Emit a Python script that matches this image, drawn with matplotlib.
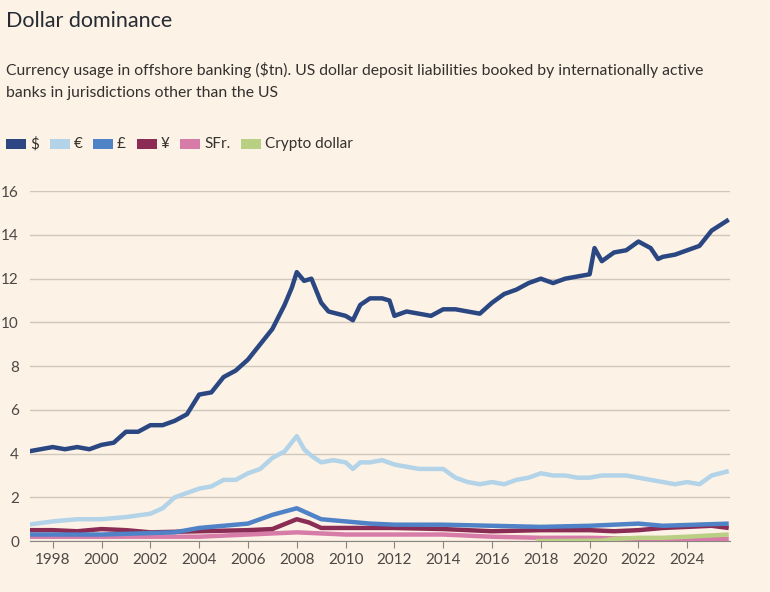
import numpy as np
import matplotlib
matplotlib.use("Agg")
from matplotlib import pyplot as plt
from matplotlib.patches import Rectangle

plt.rcParams['font.family'] = ['Lato', 'DejaVu Sans']

usd_x = [1997, 1997.5, 1998, 1998.5, 1999, 1999.5, 2000, 2000.5, 2001, 2001.5, 2002, 2002.5, 2003, 2003.5,
         2004, 2004.5, 2005, 2005.5, 2006, 2006.5, 2007, 2007.5, 2007.8, 2008, 2008.3, 2008.6, 2009, 2009.3,
         2010, 2010.3, 2010.6, 2011, 2011.5, 2011.8, 2012, 2012.5, 2013, 2013.5, 2014, 2014.5, 2015, 2015.5,
         2016, 2016.5, 2017, 2017.5, 2018, 2018.5, 2019, 2019.5, 2020, 2020.2, 2020.5, 2021, 2021.5, 2022,
         2022.5, 2022.8, 2023, 2023.5, 2024, 2024.5, 2025, 2025.7]
usd_y = [4.1, 4.2, 4.3, 4.2, 4.3, 4.2, 4.4, 4.5, 5.0, 5.0, 5.3, 5.3, 5.5, 5.8,
         6.7, 6.8, 7.5, 7.8, 8.3, 9.0, 9.7, 10.8, 11.6, 12.3, 11.9, 12.0, 10.9, 10.5,
         10.3, 10.1, 10.8, 11.1, 11.1, 11.0, 10.3, 10.5, 10.4, 10.3, 10.6, 10.6, 10.5, 10.4,
         10.9, 11.3, 11.5, 11.8, 12.0, 11.8, 12.0, 12.1, 12.2, 13.4, 12.8, 13.2, 13.3, 13.7,
         13.4, 12.9, 13.0, 13.1, 13.3, 13.5, 14.2, 14.7]

eur_x = [1997, 1998, 1999, 2000, 2001, 2002, 2002.5, 2003, 2003.5, 2004, 2004.5, 2005, 2005.5, 2006, 2006.5,
         2007, 2007.5, 2008, 2008.3, 2008.6, 2009, 2009.5, 2010, 2010.3, 2010.6, 2011, 2011.5, 2012, 2012.5,
         2013, 2013.5, 2014, 2014.5, 2015, 2015.5, 2016, 2016.5, 2017, 2017.5, 2018, 2018.5, 2019, 2019.5,
         2020, 2020.5, 2021, 2021.5, 2022, 2022.5, 2023, 2023.5, 2024, 2024.5, 2025, 2025.7]
eur_y = [0.75, 0.9, 1.0, 1.0, 1.1, 1.25, 1.5, 2.0, 2.2, 2.4, 2.5, 2.8, 2.8, 3.1, 3.3,
         3.8, 4.1, 4.8, 4.2, 3.9, 3.6, 3.7, 3.6, 3.3, 3.6, 3.6, 3.7, 3.5, 3.4,
         3.3, 3.3, 3.3, 2.9, 2.7, 2.6, 2.7, 2.6, 2.8, 2.9, 3.1, 3.0, 3.0, 2.9,
         2.9, 3.0, 3.0, 3.0, 2.9, 2.8, 2.7, 2.6, 2.7, 2.6, 3.0, 3.2]

gbp_x = [1997, 2000, 2003, 2004, 2005, 2006, 2007, 2008, 2009, 2010, 2011, 2012, 2014, 2016, 2018, 2020, 2022, 2023, 2025.7]
gbp_y = [0.3, 0.3, 0.4, 0.6, 0.7, 0.8, 1.2, 1.5, 1.0, 0.9, 0.8, 0.75, 0.75, 0.7, 0.65, 0.7, 0.8, 0.7, 0.8]

jpy_x = [1997, 1998, 1999, 2000, 2001, 2002, 2004, 2006, 2007, 2008, 2008.5, 2009, 2010, 2012, 2014, 2016,
         2018, 2020, 2021, 2022, 2023, 2024, 2025, 2025.7]
jpy_y = [0.5, 0.5, 0.45, 0.55, 0.5, 0.4, 0.45, 0.5, 0.55, 1.0, 0.85, 0.6, 0.6, 0.6, 0.55, 0.45,
         0.5, 0.5, 0.45, 0.5, 0.6, 0.65, 0.7, 0.6]

chf_x = [1997, 2004, 2006, 2008, 2010, 2012, 2014, 2016, 2018, 2020, 2022, 2025.7]
chf_y = [0.2, 0.2, 0.3, 0.4, 0.3, 0.3, 0.3, 0.2, 0.15, 0.15, 0.1, 0.1]

crypto_x = [2017.8, 2020.5, 2021, 2022, 2023, 2024, 2025.7]
crypto_y = [0.0, 0.02, 0.1, 0.15, 0.15, 0.2, 0.3]

labels = ["$", "€", "£", "¥", "SFr.", "Crypto dollar"]
colors = ["#2b4782", "#b2d3e8", "#4f82c6", "#8b2c55", "#d77ba8", "#b8cf84"]
series = [(usd_x, usd_y), (eur_x, eur_y), (gbp_x, gbp_y), (jpy_x, jpy_y), (chf_x, chf_y), (crypto_x, crypto_y)]

bg = "#fcf2e6"
fig = plt.figure(figsize=(7.7, 5.92), dpi=100, facecolor=bg)
ax = fig.add_axes([0.039, 0.086, 0.909, 0.591], facecolor=bg)

# draw small series first so the dollar sits on top
for i in [4, 3, 2, 5, 1, 0]:
    x, y = series[i]
    ax.plot(x, y, color=colors[i], lw=3.2, solid_capstyle="butt", zorder=3 + (i == 0))

ax.set_xlim(1997.07, 2025.75)
ax.set_ylim(0, 16)
ax.set_yticks(range(0, 17, 2))
ax.set_xticks(range(1998, 2025, 2))
ax.grid(axis="y", color="#cfc6bc", lw=1)
for s in ["top", "right", "left"]:
    ax.spines[s].set_visible(False)
ax.spines["bottom"].set_color("#8a8580")
ax.tick_params(axis="y", length=0, labelsize=11, colors="#4d4845", pad=8)
ax.tick_params(axis="x", length=5, color="#8a8580", labelsize=11, colors="#4d4845")

fig.text(0.008, 0.965, "Dollar dominance", fontsize=15.5, color="#262a33", va="center")
fig.text(0.008, 0.882, "Currency usage in offshore banking ($tn). US dollar deposit liabilities booked by internationally active",
         fontsize=11.3, color="#33302e", va="center")
fig.text(0.008, 0.843, "banks in jurisdictions other than the US", fontsize=11.3, color="#33302e", va="center")

# legend row
xpos = 0.008
ly = 0.757
for lab, c in zip(labels, colors):
    fig.patches.append(Rectangle((xpos, ly - 0.008), 0.026, 0.016, transform=fig.transFigure,
                                 facecolor=c, edgecolor="none"))
    t = fig.text(xpos + 0.031, ly, lab, fontsize=11, color="#33302e", va="center")
    fig.canvas.draw()
    w = t.get_window_extent().width / fig.bbox.width
    xpos += 0.031 + w + 0.014

fig.savefig("out.png", dpi=100, facecolor=bg)
